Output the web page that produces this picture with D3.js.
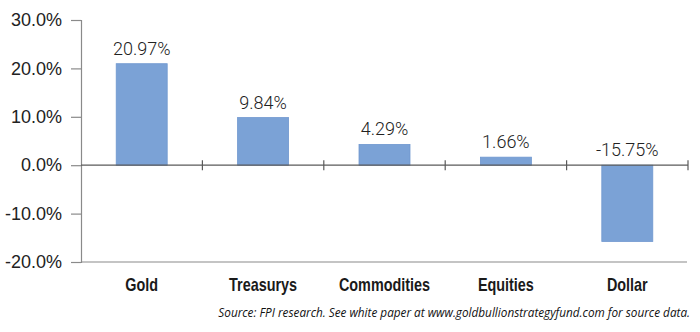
<!DOCTYPE html>
<html>
<head>
<meta charset="utf-8">
<script src="https://cdn.jsdelivr.net/npm/d3@7"></script>
<style>
  html, body { margin: 0; padding: 0; background: #fff; }
  svg { display: block; }
</style>
</head>
<body>
<svg id="chart" width="700" height="332"></svg>
<script>
const categories = ["Gold", "Treasurys", "Commodities", "Equities", "Dollar"];
const values = [20.97, 9.84, 4.29, 1.66, -15.75];
const yTicks = [-20, -10, 0, 10, 20, 30];
const sourceText = "Source: FPI research. See white paper at www.goldbullionstrategyfund.com for source data.";

(function () {
const svg = d3.select("#chart");
const mLeft = 81, mRight = 688, mTop = 20, mBottom = 262;
const fmt = (spec) => (d) => d3.format(spec)(d).replace("\u2212", "-") + "%";

const x = d3.scaleBand().domain(categories).range([mLeft, mRight]).padding(0);
const y = d3.scaleLinear().domain([-20, 30]).range([mBottom, mTop]);
const barW = x.bandwidth() * 0.42;

// bottom grey line
svg.append("line")
  .attr("x1", mLeft).attr("x2", mRight - 1)
  .attr("y1", y(-20)).attr("y2", y(-20))
  .attr("stroke", "#8a8a8a").attr("stroke-width", 1.2);

// bars
svg.append("g").selectAll("rect").data(values).join("rect")
  .attr("x", (d, i) => x(categories[i]) + (x.bandwidth() - barW) / 2)
  .attr("width", barW)
  .attr("y", d => y(Math.max(0, d)))
  .attr("height", d => Math.abs(y(d) - y(0)))
  .attr("fill", "#7ba2d6")
  .attr("stroke", "#6f97cf").attr("stroke-width", 0.8);

// y axis
const yAxis = d3.axisLeft(y).tickValues(yTicks).tickSize(10).tickPadding(9)
  .tickFormat(fmt(".1f"));
const gy = svg.append("g").attr("transform", `translate(${mLeft},0)`).call(yAxis);
gy.select(".domain").attr("stroke", "#8a8a8a").attr("stroke-width", 1.2);
gy.selectAll(".tick line").attr("stroke", "#8a8a8a").attr("stroke-width", 1.2);
gy.selectAll(".tick text")
  .attr("font-family", "'Liberation Sans', Arial, sans-serif")
  .attr("font-size", 18).attr("fill", "#222");

// zero axis with category boundary ticks
svg.append("line")
  .attr("x1", mLeft).attr("x2", mRight)
  .attr("y1", y(0)).attr("y2", y(0))
  .attr("stroke", "#5a5a5a").attr("stroke-width", 1.2);
const bounds = categories.slice(1).map(c => x(c)).concat([mRight]);
svg.append("g").selectAll("line").data(bounds).join("line")
  .attr("x1", d => d).attr("x2", d => d)
  .attr("y1", y(0) - 5).attr("y2", y(0) + 5)
  .attr("stroke", "#5a5a5a").attr("stroke-width", 1.2);

// value labels
svg.append("g").selectAll("text").data(values).join("text")
  .attr("x", (d, i) => x(categories[i]) + x.bandwidth() / 2)
  .attr("y", d => (d >= 0 ? y(d) : y(0)) - 9)
  .attr("text-anchor", "middle")
  .attr("font-family", "Roboto, 'Liberation Sans', sans-serif")
  .attr("font-weight", 300)
  .attr("font-size", 18).attr("fill", "#222")
  .text(fmt(".2f"));

// category labels (condensed look)
svg.append("g").selectAll("text").data(categories).join("text")
  .attr("transform", d => `translate(${x(d) + x.bandwidth() / 2},291) scale(0.8,1)`)
  .attr("text-anchor", "middle")
  .attr("font-family", "'Liberation Sans', Arial, sans-serif")
  .attr("font-weight", 700)
  .attr("font-size", 18).attr("fill", "#1a1a1a")
  .text(d => d);

// source
const src = svg.append("text")
  .attr("x", 690).attr("y", 317)
  .attr("text-anchor", "end")
  .attr("font-family", "'Open Sans', sans-serif")
  .attr("font-style", "italic")
  .attr("font-size", 12).attr("fill", "#111")
  .text(sourceText);
const w = src.node().getComputedTextLength();
src.attr("font-size", 12 * 472 / w);
})();
</script>
</body>
</html>
